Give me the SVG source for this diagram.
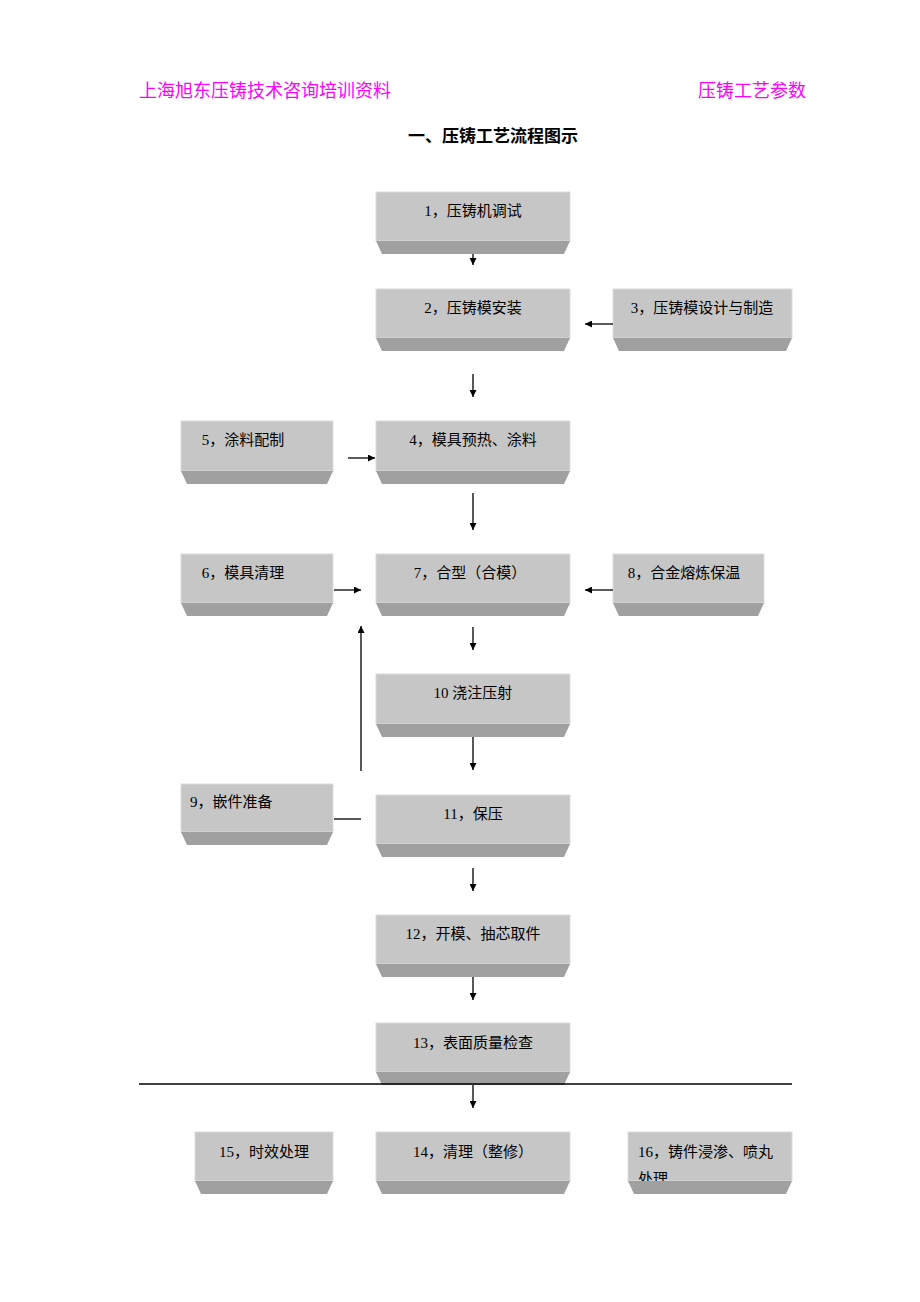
<svg xmlns="http://www.w3.org/2000/svg" width="920" height="1302" viewBox="0 0 920 1302">
<defs>
<style>
.t{font-family:"Liberation Serif","Noto Sans CJK SC",serif;font-size:15px;fill:#000}
.h{font-family:"Liberation Serif","Noto Sans CJK SC",serif;font-size:18px;fill:#ff00ff}
.top{fill:#c6c6c6;stroke:#dcdcdc;stroke-width:1}
.bot{fill:#a0a0a0}
.ln{stroke:#000;stroke-width:1.3;fill:none}
</style>
<marker id="a" viewBox="0 0 10 10" refX="10" refY="5" markerWidth="7" markerHeight="7" orient="auto" markerUnits="userSpaceOnUse"><path d="M0,0L10,5L0,10z" fill="#000"/></marker>
<clipPath id="c16"><rect x="628" y="1132" width="164" height="49"/></clipPath>
</defs>
<rect width="920" height="1302" fill="#fff"/>
<text class="h" x="139" y="97">上海旭东压铸技术咨询培训资料</text>
<text class="h" x="806" y="97" text-anchor="end">压铸工艺参数</text>
<text x="493" y="142" text-anchor="middle" style="font-family:'Liberation Serif','Noto Sans CJK SC',serif;font-size:17px;font-weight:bold">一、压铸工艺流程图示</text>

<g id="n1"><rect class="top" x="376" y="192" width="194" height="49"/><path class="bot" d="M376,241H570L564,254H382z"/><text class="t" x="473" y="216" text-anchor="middle">1，压铸机调试</text></g>
<g id="n2"><rect class="top" x="376" y="289" width="194" height="49"/><path class="bot" d="M376,338H570L564,351H382z"/><text class="t" x="473" y="313" text-anchor="middle">2，压铸模安装</text></g>
<g id="n3"><rect class="top" x="613" y="289" width="179" height="49"/><path class="bot" d="M613,338H792L786,351H619z"/><text class="t" x="702" y="313" text-anchor="middle">3，压铸模设计与制造</text></g>
<g id="n5"><rect class="top" x="181" y="421" width="152" height="50"/><path class="bot" d="M181,471H333L327,484H187z"/><text class="t" x="243" y="445" text-anchor="middle">5，涂料配制</text></g>
<g id="n4"><rect class="top" x="376" y="421" width="194" height="50"/><path class="bot" d="M376,471H570L564,484H382z"/><text class="t" x="473" y="445" text-anchor="middle">4，模具预热、涂料</text></g>
<g id="n6"><rect class="top" x="181" y="554" width="152" height="49"/><path class="bot" d="M181,603H333L327,616H187z"/><text class="t" x="243" y="578" text-anchor="middle">6，模具清理</text></g>
<g id="n7"><rect class="top" x="376" y="554" width="194" height="49"/><path class="bot" d="M376,603H570L564,616H382z"/><text class="t" x="470" y="578" text-anchor="middle">7，合型（合模）</text></g>
<g id="n8"><rect class="top" x="613" y="554" width="151" height="49"/><path class="bot" d="M613,603H764L758,616H619z"/><text class="t" x="684" y="578" text-anchor="middle">8，合金熔炼保温</text></g>
<g id="n10"><rect class="top" x="376" y="674" width="194" height="50"/><path class="bot" d="M376,724H570L564,737H382z"/><text class="t" x="473" y="698" text-anchor="middle">10 浇注压射</text></g>
<g id="n9"><rect class="top" x="181" y="784" width="152" height="48"/><path class="bot" d="M181,832H333L327,845H187z"/><text class="t" x="190" y="807">9，嵌件准备</text></g>
<g id="n11"><rect class="top" x="376" y="795" width="194" height="49"/><path class="bot" d="M376,844H570L564,857H382z"/><text class="t" x="473" y="819" text-anchor="middle">11，保压</text></g>
<g id="n12"><rect class="top" x="376" y="915" width="194" height="49"/><path class="bot" d="M376,964H570L564,977H382z"/><text class="t" x="473" y="939" text-anchor="middle">12，开模、抽芯取件</text></g>
<g id="n13"><rect class="top" x="376" y="1023" width="194" height="49"/><path class="bot" d="M376,1072H570L564,1085H382z"/><text class="t" x="473" y="1048" text-anchor="middle">13，表面质量检查</text></g>
<g id="n15"><rect class="top" x="195" y="1132" width="138" height="49"/><path class="bot" d="M195,1181H333L327,1194H201z"/><text class="t" x="264" y="1157" text-anchor="middle">15，时效处理</text></g>
<g id="n14"><rect class="top" x="376" y="1132" width="194" height="49"/><path class="bot" d="M376,1181H570L564,1194H382z"/><text class="t" x="473" y="1157" text-anchor="middle">14，清理（整修）</text></g>
<g id="n16"><rect class="top" x="628" y="1132" width="164" height="49"/><path class="bot" d="M628,1181H792L786,1194H634z"/><g clip-path="url(#c16)"><text class="t" x="638" y="1157">16，铸件浸渗、喷丸</text><text class="t" x="638" y="1184">处理</text></g></g>

<g id="connectors" class="ln">
<path class="ln" d="M473,254V265" marker-end="url(#a)"/>
<path class="ln" d="M613,324H585" marker-end="url(#a)"/>
<path class="ln" d="M473,374V397" marker-end="url(#a)"/>
<path class="ln" d="M348,458H375" marker-end="url(#a)"/>
<path class="ln" d="M473,493V530" marker-end="url(#a)"/>
<path class="ln" d="M334,590H361" marker-end="url(#a)"/>
<path class="ln" d="M613,590H585" marker-end="url(#a)"/>
<path class="ln" d="M473,627V650" marker-end="url(#a)"/>
<path class="ln" d="M473,737V770" marker-end="url(#a)"/>
<path class="ln" d="M334,819H361"/>
<path class="ln" d="M361,771V626" marker-end="url(#a)"/>
<path class="ln" d="M473,868V891" marker-end="url(#a)"/>
<path class="ln" d="M473,977V1000" marker-end="url(#a)"/>
<path class="ln" d="M139,1084H792"/>
<path class="ln" d="M473,1085V1108" marker-end="url(#a)"/>
</g>
</svg>
